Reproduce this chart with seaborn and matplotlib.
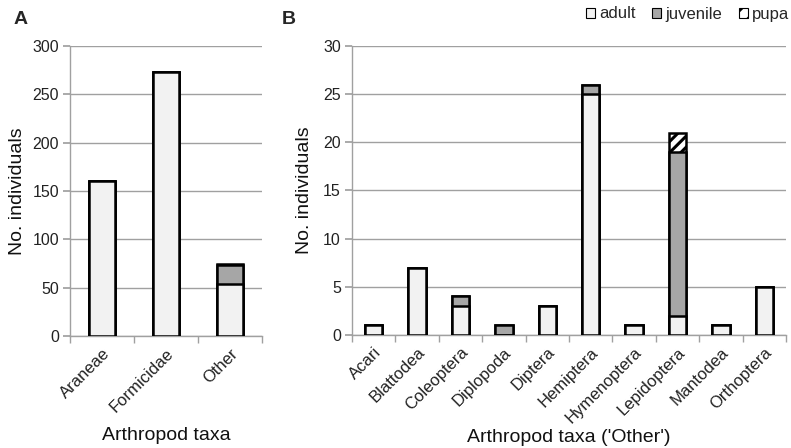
import numpy as np
import pandas as pd
import matplotlib
matplotlib.use("Agg")
import matplotlib.pyplot as plt
from matplotlib.patches import Patch
import seaborn as sns

# Panel A: main arthropod groups
taxa_a = ["Araneae", "Formicidae", "Other"]
adult_a = [160, 273, 54]
juvenile_a = [0, 0, 19]
pupa_a = [0, 0, 2]

# Panel B: breakdown of the 'Other' group
taxa_b = ["Acari", "Blattodea", "Coleoptera", "Diplopoda", "Diptera",
          "Hemiptera", "Hymenoptera", "Lepidoptera", "Mantodea", "Orthoptera"]
adult_b = [1, 7, 3, 0, 3, 25, 1, 2, 1, 5]
juvenile_b = [0, 0, 1, 1, 0, 1, 0, 17, 0, 0]
pupa_b = [0, 0, 0, 0, 0, 0, 0, 2, 0, 0]

yticks_a = [0, 50, 100, 150, 200, 250, 300]
yticks_b = [0, 5, 10, 15, 20, 25, 30]

C_ADULT = "#f2f2f2"
C_JUV = "#a6a6a6"
C_PUPA = "white"
GRID = "#a0a0a0"
TXT = "#222222"

sns.set_theme(style="white")
plt.rcParams["font.family"] = ["Liberation Sans", "DejaVu Sans"]
plt.rcParams["hatch.linewidth"] = 2.2


def stacked(ax, taxa, adult, juv, pupa, yticks):
    df = pd.DataFrame({"taxon": taxa, "adult": adult, "juvenile": juv, "pupa": pupa})
    df["t_adult"] = df["adult"]
    df["t_juv"] = df["adult"] + df["juvenile"]
    df["t_pupa"] = df["t_juv"] + df["pupa"]
    # cumulative totals drawn back to front give the stacked segments
    layers = [("t_pupa", C_PUPA, "///"), ("t_juv", C_JUV, None), ("t_adult", C_ADULT, None)]
    for col, color, hatch in layers:
        sns.barplot(data=df, x="taxon", y=col, order=taxa, color=color, width=0.4,
                    edgecolor="black", linewidth=1.8, hatch=hatch, saturation=1,
                    ax=ax, zorder=3)
    ax.set_ylim(yticks[0], yticks[-1])
    ax.set_yticks(yticks)
    ax.set_xlim(-0.5, len(taxa) - 0.5)
    ax.yaxis.grid(True, color=GRID, linewidth=1)
    ax.set_axisbelow(True)
    for s in ["top", "right"]:
        ax.spines[s].set_visible(False)
    for s in ["left", "bottom"]:
        ax.spines[s].set_color(GRID)
        ax.spines[s].set_linewidth(1)
    ax.tick_params(axis="y", which="both", left=True, length=5, color=GRID,
                   labelsize=11.5, labelcolor=TXT, pad=3)
    ax.set_xticks(np.arange(len(taxa)))
    ax.set_xticklabels(taxa, rotation=45, ha="right", rotation_mode="anchor",
                       fontsize=12, color=TXT)
    ax.tick_params(axis="x", which="major", length=0, pad=7)
    ax.set_xticks(np.arange(len(taxa) + 1) - 0.5, minor=True)
    ax.tick_params(axis="x", which="minor", bottom=True, length=5, color=GRID, width=1)
    ax.set_ylabel("No. individuals", fontsize=14, color="#111111")


fig = plt.figure(figsize=(7.91, 4.48), dpi=100)
ax_a = fig.add_axes([70 / 791, 1 - 336 / 448, 192 / 791, 290 / 448])
ax_b = fig.add_axes([352 / 791, 1 - 335 / 448, 434 / 791, 289 / 448])

stacked(ax_a, taxa_a, adult_a, juvenile_a, pupa_a, yticks_a)
stacked(ax_b, taxa_b, adult_b, juvenile_b, pupa_b, yticks_b)

ax_a.set_xlabel("Arthropod taxa", fontsize=14, color="#111111")
ax_b.set_xlabel("Arthropod taxa ('Other')", fontsize=14, color="#111111")
ax_a.xaxis.set_label_coords(0.5, -(427 - 336) / 290)
ax_b.xaxis.set_label_coords(0.5, -(429 - 335) / 289)
ax_a.yaxis.set_label_coords(-(70 - 26) / 192, 0.5)
ax_b.yaxis.set_label_coords(-(352 - 313) / 434, 0.5)

fig.text(14 / 791, 1 - 19 / 448, "A", fontsize=14, fontweight="bold", va="center")
fig.text(282 / 791, 1 - 19 / 448, "B", fontsize=14, fontweight="bold", va="center")

handles = [Patch(facecolor=C_ADULT, edgecolor="black", linewidth=0.8, label="adult"),
           Patch(facecolor=C_JUV, edgecolor="black", linewidth=0.8, label="juvenile"),
           Patch(facecolor=C_PUPA, edgecolor="black", linewidth=0.8, hatch="//", label="pupa")]
fig.legend(handles=handles, loc="center right", bbox_to_anchor=(0.998, 1 - 14 / 448),
           ncol=3, frameon=False, fontsize=12, handlelength=0.55, handleheight=0.55,
           handletextpad=0.25, columnspacing=1.0, borderaxespad=0, borderpad=0)

fig.savefig("out.png", dpi=100)
